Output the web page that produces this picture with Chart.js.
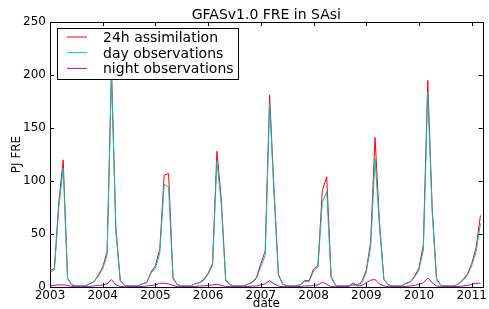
<!DOCTYPE html>
<html>
<head>
<meta charset="utf-8">
<script src="https://cdn.jsdelivr.net/npm/chart.js@4"></script>
<style>
  body { margin: 0; background: #fff; }
</style>
</head>
<body>
<canvas id="myChart" width="489" height="309"></canvas>
<script>
// setup
const startYear = 2003;
const yearTicks = [2003, 2004, 2005, 2006, 2007, 2008, 2009, 2010, 2011];
const yTicks = [0, 50, 100, 150, 200, 250];

// monthly values, Jan 2003 .. Mar 2011 (PJ)
const assim24h = [
  15.5, 17.5, 80, 120, 8, 2, 1, 1, 1, 3, 5, 11,
  19, 33, 205, 55, 6, 1.5, 1, 1, 1, 3, 4, 14,
  20, 36, 105.5, 107, 9, 2, 1, 1, 1, 3, 4, 7,
  13, 22, 128, 82, 7, 2, 1, 1, 1, 2.5, 4.5, 9,
  22, 34, 181, 92, 12, 2.5, 1, 1, 1, 2, 6, 6,
  17, 20, 91, 104, 10, 1.5, 1, 1, 1, 2, 2, 5,
  16, 42, 141, 62, 7.5, 2, 1, 1, 1, 3.5, 5, 10,
  18, 40, 195, 75, 8, 1.5, 1, 1, 1, 3, 7, 12,
  22, 37, 67.5
];
const dayObs = [
  14, 16, 75, 112, 8, 2, 1, 1, 1, 3, 5, 10,
  17, 30, 202, 52, 6, 1.5, 1, 1, 1, 3, 4, 13,
  18, 32, 97, 94, 8, 2, 1, 1, 1, 3, 4, 6,
  12, 20, 119, 78, 6, 2, 1, 1, 1, 2.5, 4, 8,
  19, 30, 173.5, 88, 11, 2.5, 1, 1, 1, 2, 5, 5,
  15, 19, 80, 90, 9, 1.5, 1, 1, 1, 2, 2, 4,
  14, 38, 121, 58, 7, 2, 1, 1, 1, 3, 4.5, 9,
  16, 35, 184, 72, 7, 1.5, 1, 1, 1, 3, 6, 11,
  20, 33, 60
];
const nightObs = [
  1, 1.5, 2, 2, 1.5, 0.5, 0.3, 0.3, 0.3, 0.5, 1, 1.5,
  2, 3, 7, 2, 0.5, 0.3, 0.3, 0.3, 0.3, 0.5, 1, 1.5,
  2, 3.5, 3.5, 3, 1.5, 0.3, 0.3, 0.3, 0.3, 0.5, 1, 1,
  1.5, 2, 2.5, 1.5, 0.5, 0.3, 0.3, 0.3, 0.3, 0.5, 0.8, 1,
  2, 3, 6, 3, 1, 0.3, 0.3, 0.3, 0.3, 0.5, 1, 1,
  1.5, 2, 4.5, 2.5, 0.5, 0.3, 0.3, 0.3, 0.5, 4, 1, 1.5,
  4, 6.5, 7, 3, 1, 0.3, 0.3, 0.3, 0.3, 0.5, 1, 1.5,
  2.5, 4, 8.5, 4, 1, 0.3, 0.3, 0.3, 0.3, 0.5, 1, 1.5,
  2.5, 3.5, 3.5
];

// decimal year of each month
const toPoints = arr => arr.map((v, i) => ({ x: startYear + i / 12, y: v }));

const data = {
  datasets: [
    { label: '24h assimilation', data: toPoints(assim24h), borderColor: '#ff0000', order: 2 },
    { label: 'day observations', data: toPoints(dayObs), borderColor: '#00bfbf', order: 1 },
    { label: 'night observations', data: toPoints(nightObs), borderColor: '#bf00bf', order: 0 }
  ]
};
data.datasets.forEach(ds => {
  ds.borderWidth = 1;
  ds.pointRadius = 0;
  ds.tension = 0;
  ds.fill = false;
});

// frame, inward ticks, titles and the legend box, matplotlib style
const mplDecor = {
  id: 'mplDecor',
  afterDraw(chart) {
    const ctx = chart.ctx;
    const a = chart.chartArea;
    const xs = chart.scales.x, ys = chart.scales.y;
    ctx.save();
    ctx.strokeStyle = '#000';
    ctx.lineWidth = 1;
    ctx.strokeRect(Math.round(a.left) + 0.5, Math.round(a.top) + 0.5,
      Math.round(a.right - a.left), Math.round(a.bottom - a.top));
    ctx.beginPath();
    yearTicks.forEach(t => {
      const px = Math.round(xs.getPixelForValue(t)) + 0.5;
      ctx.moveTo(px, a.bottom); ctx.lineTo(px, a.bottom - 4);
      ctx.moveTo(px, a.top); ctx.lineTo(px, a.top + 4);
    });
    yTicks.forEach(t => {
      const py = Math.round(ys.getPixelForValue(t)) + 0.5;
      ctx.moveTo(a.left, py); ctx.lineTo(a.left + 4, py);
      ctx.moveTo(a.right, py); ctx.lineTo(a.right - 4, py);
    });
    ctx.stroke();

    ctx.fillStyle = '#000';
    ctx.textAlign = 'center';
    ctx.textBaseline = 'alphabetic';
    ctx.font = '14px "DejaVu Sans"';
    ctx.fillText('GFASv1.0 FRE in SAsi', (a.left + a.right) / 2, 19);
    ctx.font = '12px "DejaVu Sans"';
    ctx.fillText('date', (a.left + a.right) / 2, 307);
    ctx.save();
    ctx.translate(20, (a.top + a.bottom) / 2);
    ctx.rotate(-Math.PI / 2);
    ctx.fillText('PJ FRE', 0, 0);
    ctx.restore();

    // legend
    const bx = 57, by = 28, bw = 181, bh = 51;
    ctx.fillStyle = '#fff';
    ctx.fillRect(bx, by, bw, bh);
    ctx.strokeRect(bx + 0.5, by + 0.5, bw, bh);
    ctx.font = '14px "DejaVu Sans"';
    ctx.textAlign = 'left';
    chart.data.datasets.forEach((ds, i) => {
      const ly = by + 9 + i * 15.7;
      ctx.strokeStyle = ds.borderColor;
      ctx.beginPath();
      ctx.moveTo(67, ly); ctx.lineTo(87, ly);
      ctx.stroke();
      ctx.fillStyle = '#000';
      ctx.fillText(ds.label, 103, ly + 5);
    });
    ctx.restore();
  }
};

// config
const config = {
  type: 'line',
  data,
  options: {
    responsive: false,
    animation: false,
    layout: { padding: { top: 22, right: 2, left: 0, bottom: 0 } },
    plugins: { legend: { display: false }, title: { display: false }, tooltip: { enabled: false } },
    scales: {
      x: {
        type: 'linear',
        min: 2003,
        max: 2011 + 2.5 / 12,
        border: { display: false },
        grid: { display: false, drawTicks: false },
        afterBuildTicks: s => { s.ticks = yearTicks.map(v => ({ value: v })); },
        afterFit: s => { s.height = 22; },
        ticks: {
          autoSkip: false, maxRotation: 0, padding: 2, color: '#000',
          font: { family: 'DejaVu Sans', size: 12 },
          callback: v => String(v)
        }
      },
      y: {
        min: 0,
        max: 250,
        border: { display: false },
        grid: { display: false, drawTicks: false },
        afterBuildTicks: s => { s.ticks = yTicks.map(v => ({ value: v })); },
        afterFit: s => { s.width = 50; },
        ticks: {
          padding: 4, color: '#000',
          font: { family: 'DejaVu Sans', size: 12 }
        }
      }
    }
  },
  plugins: [mplDecor]
};

// render init block
const myChart = new Chart(document.getElementById('myChart'), config);
</script>
</body>
</html>
